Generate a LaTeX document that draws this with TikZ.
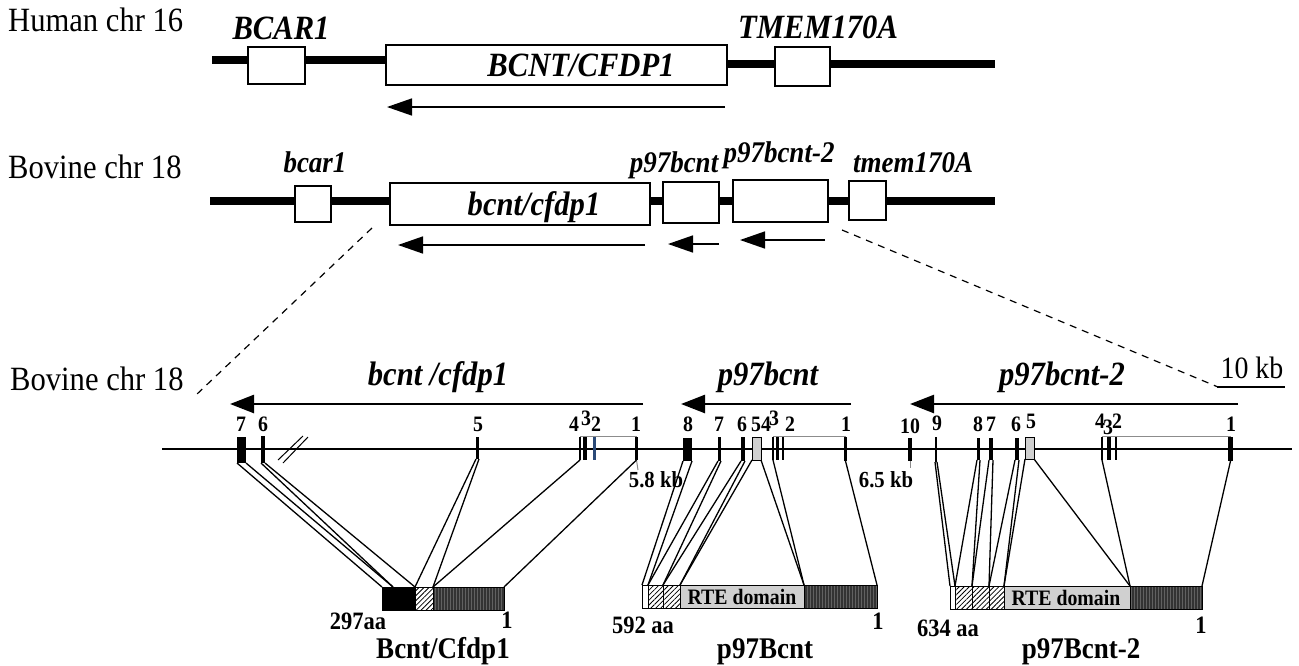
\documentclass[tikz,border=0pt]{standalone}
\usepackage{fontspec}
\setmainfont{Liberation Serif}[FakeStretch=0.9]
\usetikzlibrary{arrows.meta,patterns.meta}
\definecolor{exblue}{HTML}{2B4A78}
\definecolor{rtegray}{HTML}{D0D0D0}
\newcommand\rnode[6]{\node[#1, inner sep=0pt, outer sep=0pt, minimum width={(#5-#3)*1pt}, minimum height={(#6-#4)*1pt}] (#2) at ({(#3+#5)/2},{(#4+#6)/2}) {};}
\tikzset{
 chrom/.style={line width=8pt},
 genebox/.style={draw, line width=1.6pt, fill=white},
 lbl/.style={inner sep=0pt, font=\fontsize{34}{38}\selectfont},
 gene/.style={inner sep=0pt, font=\fontsize{34}{38}\selectfont\bfseries\itshape},
 genes/.style={inner sep=0pt, font=\fontsize{30}{34}\selectfont\bfseries\itshape},
 exnum/.style={inner sep=0pt, font=\fontsize{22}{26}\selectfont\bfseries},
 kbl/.style={inner sep=0pt, font=\fontsize{23}{26}\selectfont\bfseries},
 aal/.style={inner sep=0pt, font=\fontsize{25}{28}\selectfont\bfseries},
 protl/.style={inner sep=0pt, font=\fontsize{30}{34}\selectfont\bfseries},
 rtel/.style={inner sep=0pt, font=\fontsize{22}{26}\selectfont\bfseries},
 scl/.style={inner sep=0pt, font=\fontsize{31}{34}\selectfont},
 bigarrow/.style={line width=1.5pt, -{Triangle[length=25pt,width=17pt]}},
 exarrow/.style={line width=2.5pt, -{Triangle[length=24pt,width=18pt]}},
 dashline/.style={line width=1.2pt, dash pattern=on 7pt off 6pt},
 exon/.style={fill=black},
 blueexon/.style={fill=exblue},
 gexon/.style={draw, line width=0.8pt, fill=rtegray},
 bracket/.style={line width=1pt, draw=black!45},
 conn/.style={line width=1.3pt},
 seg/.style={draw, line width=0.8pt},
 blackseg/.style={seg, fill=black},
 whiteseg/.style={seg, fill=white},
 hatchseg/.style={seg, preaction={fill=white}, pattern={Lines[angle=45,distance=3.5pt,line width=0.8pt]}},
 rteseg/.style={seg, fill=rtegray},
 drkseg/.style={seg, preaction={fill=black!80}, pattern={Lines[angle=90,distance=3pt,line width=1pt]}, pattern color=black!62},
}
\begin{document}
\begin{tikzpicture}[x=1pt,y=-1pt]
\useasboundingbox (0,0) rectangle (1299,665);
% ---------- Row 1: Human chr 16
\node[lbl, anchor=base west] (h16) at (8,31) {Human chr 16};
\draw[chrom] (212,60) -- (390,60);
\draw[chrom] (722,64) -- (995,64);
\rnode{genebox}{hB}{248}{47}{305}{84}
\rnode{genebox}{hC}{386}{45}{727}{85}
\rnode{genebox}{hT}{775}{47}{830}{86}
\node[gene, anchor=base] (hBl) at (281,39) {BCAR1};
\node[gene, anchor=base] (hTl) at (818,38) {TMEM170A};
\node[gene, anchor=base] (hCl) at (581,76) {BCNT/CFDP1};
\coordinate (hA1) at (725,107);
\coordinate (hA0) at (387,107);
\draw[bigarrow] (hA1) -- (hA0);
% ---------- Row 2: Bovine chr 18
\node[lbl, anchor=base west] (b18) at (8,178) {Bovine chr 18};
\draw[chrom] (210,201) -- (995,201);
\rnode{genebox}{vB}{295}{186}{331}{222}
\rnode{genebox}{vC}{390}{183}{650}{225}
\rnode{genebox}{vP}{663}{182}{719}{223}
\rnode{genebox}{vQ}{733}{180}{828}{222}
\rnode{genebox}{vT}{849}{181}{886}{220}
\node[genes, anchor=base] (vBl) at (315,172) {bcar1};
\node[genes, anchor=base] (vPl) at (674,172) {p97bcnt};
\node[genes, anchor=base] (vQl) at (779,162) {p97bcnt-2};
\node[genes, anchor=base] (vTl) at (913,172) {tmem170A};
\node[gene, anchor=base] (vCl) at (534,215) {bcnt/cfdp1};
\coordinate (vA1) at (645,245); \coordinate (vA0) at (398,245);
\coordinate (vP1) at (719,244); \coordinate (vP0) at (668,244);
\coordinate (vQ1) at (825,240); \coordinate (vQ0) at (740,240);
\draw[bigarrow] (vA1) -- (vA0);
\draw[bigarrow] (vP1) -- (vP0);
\draw[bigarrow] (vQ1) -- (vQ0);
\coordinate (dL0) at (372,228); \coordinate (dL1) at (196,395);
\coordinate (dR0) at (842,230); \coordinate (dR1) at (1218,387);
\draw[dashline] (dL0) -- (dL1);
\draw[dashline] (dR0) -- (dR1);
% ---------- Row 3: exon map
\node[lbl, anchor=base west] (c18) at (10,390) {Bovine chr 18};
\node[scl, anchor=base] (kb10) at (1252,378) {10 kb};
\coordinate (sc0) at (1217,387); \coordinate (sc1) at (1285,387);
\draw[line width=1.2pt] (sc0) -- (sc1);
\node[gene, anchor=base] (g1) at (438,385) {bcnt /cfdp1};
\node[gene, anchor=base] (g2) at (768,385) {p97bcnt};
\node[gene, anchor=base] (g3) at (1062,385) {p97bcnt-2};
\coordinate (ga1) at (643,404); \coordinate (ga0) at (230,404);
\coordinate (gb1) at (851,404); \coordinate (gb0) at (681,404);
\coordinate (gc1) at (1238,404); \coordinate (gc0) at (910,404);
\draw[exarrow] (ga1) -- (ga0);
\draw[exarrow] (gb1) -- (gb0);
\draw[exarrow] (gc1) -- (gc0);
\coordinate (m0) at (162,449); \coordinate (m1) at (1292,449);
\draw[line width=2pt] (m0) -- (m1);
% brackets
\coordinate (k1a) at (580,436); \coordinate (k1b) at (637,436);
\coordinate (k2a) at (773,436); \coordinate (k2b) at (846,436);
\coordinate (k3a) at (1102,436); \coordinate (k3b) at (1231,436);
\draw[bracket] (k1a) -- (k1b);
\draw[bracket] (k2a) -- (k2b);
\draw[bracket] (k3a) -- (k3b);
% break marks
\coordinate (br1a) at (278,460); \coordinate (br1b) at (303,436);
\coordinate (br2a) at (283,463); \coordinate (br2b) at (308,437);
\draw[line width=1pt] (br1a) -- (br1b);
\draw[line width=1pt] (br2a) -- (br2b);
% bcnt exons
\rnode{exon}{b7}{237}{437}{246}{463}
\rnode{exon}{b6}{261}{436}{265}{463}
\rnode{exon}{b5}{476}{437}{479}{459}
\rnode{exon}{b4}{579}{437}{581}{460}
\rnode{exon}{b3}{583}{437}{587}{460}
\rnode{blueexon}{b2}{593}{437}{596}{460}
\rnode{exon}{b1}{635}{437}{638}{460}
% p97bcnt exons
\rnode{exon}{p8}{683}{438}{692}{461}
\rnode{exon}{p7}{718}{437}{721}{461}
\rnode{exon}{p6}{741}{437}{745}{461}
\rnode{gexon}{p5}{752}{437}{761}{460}
\rnode{exon}{p4}{772}{437}{774}{460}
\rnode{exon}{p3}{776}{437}{779}{460}
\rnode{exon}{p2}{782}{437}{784}{460}
\rnode{exon}{p1}{844}{437}{847}{461}
% p97bcnt-2 exons
\rnode{exon}{q10}{908}{438}{912}{461}
\rnode{exon}{q9}{935}{437}{937}{462}
\rnode{exon}{q8}{977}{438}{980}{460}
\rnode{exon}{q7}{989}{438}{993}{460}
\rnode{exon}{q6}{1015}{438}{1019}{460}
\rnode{gexon}{q5}{1025}{437}{1034}{459}
\rnode{exon}{q4}{1101}{437}{1103}{460}
\rnode{exon}{q3}{1107}{437}{1111}{460}
\rnode{exon}{q2}{1115}{437}{1117}{460}
\rnode{exon}{q1}{1228}{437}{1233}{461}
% exon numbers
\node[exnum, anchor=base] (nb7) at (241,431) {7};
\node[exnum, anchor=base] (nb6) at (263,431) {6};
\node[exnum, anchor=base] (nb5) at (478,431) {5};
\node[exnum, anchor=base] (nb4) at (574,431) {4};
\node[exnum, anchor=base] (nb3) at (586,425) {3};
\node[exnum, anchor=base] (nb2) at (596,431) {2};
\node[exnum, anchor=base] (nb1) at (636,431) {1};
\node[exnum, anchor=base] (np8) at (688,431) {8};
\node[exnum, anchor=base] (np7) at (719,431) {7};
\node[exnum, anchor=base] (np6) at (742,431) {6};
\node[exnum, anchor=base] (np5) at (756,431) {5};
\node[exnum, anchor=base] (np4) at (766,431) {4};
\node[exnum, anchor=base] (np3) at (774,425) {3};
\node[exnum, anchor=base] (np2) at (790,431) {2};
\node[exnum, anchor=base] (np1) at (846,431) {1};
\node[exnum, anchor=base] (nq10) at (910,433) {10};
\node[exnum, anchor=base] (nq9) at (937,430) {9};
\node[exnum, anchor=base] (nq8) at (978,431) {8};
\node[exnum, anchor=base] (nq7) at (991,431) {7};
\node[exnum, anchor=base] (nq6) at (1016,431) {6};
\node[exnum, anchor=base] (nq5) at (1031,428) {5};
\node[exnum, anchor=base] (nq4) at (1100,428) {4};
\node[exnum, anchor=base] (nq3) at (1108,434) {3};
\node[exnum, anchor=base] (nq2) at (1117,428) {2};
\node[exnum, anchor=base] (nq1) at (1231,431) {1};
% distance marks
\coordinate (d58) at (638,470);
\coordinate (d65) at (910,468);
\draw[bracket] (b1.south) -- (d58);
\draw[bracket] (q10.south) -- (d65);
\node[kbl, anchor=base] (t58) at (656,487) {5.8 kb};
\node[kbl, anchor=base] (t65) at (886,487) {6.5 kb};
% ---------- proteins
\rnode{blackseg}{cB1}{382}{587}{415}{610}
\rnode{hatchseg}{cB2}{415}{587}{433}{610}
\rnode{drkseg}{cB3}{433}{587}{504}{610}
\coordinate (cBm) at (393,587);
\rnode{whiteseg}{pA0}{642}{585}{648}{608}
\rnode{hatchseg}{pA1}{648}{585}{663}{608}
\rnode{hatchseg}{pA2}{663}{585}{680}{608}
\rnode{rteseg}{pA3}{680}{585}{804}{608}
\rnode{drkseg}{pA4}{804}{585}{877}{608}
\node[rtel] (rt1) at (742,597) {RTE domain};
\rnode{whiteseg}{qA0}{950}{586}{955}{609}
\rnode{hatchseg}{qA1}{955}{586}{972}{609}
\rnode{hatchseg}{qA2}{972}{586}{989}{609}
\rnode{hatchseg}{qA3}{989}{586}{1004}{609}
\rnode{rteseg}{qA4}{1004}{586}{1130}{609}
\rnode{drkseg}{qA5}{1130}{586}{1202}{609}
\node[rtel] (rt2) at (1066,598) {RTE domain};
\node[aal, anchor=base] (aa1) at (358,629) {297aa};
\node[aal, anchor=base] (one1) at (507,628) {1};
\node[aal, anchor=base] (aa2) at (643,633) {592 aa};
\node[aal, anchor=base] (one2) at (878,629) {1};
\node[aal, anchor=base] (aa3) at (948,636) {634 aa};
\node[aal, anchor=base] (one3) at (1201,633) {1};
\node[protl, anchor=base] (pn1) at (443,658) {Bcnt/Cfdp1};
\node[protl, anchor=base] (pn2) at (765,658) {p97Bcnt};
\node[protl, anchor=base] (pn3) at (1081,658) {p97Bcnt-2};
% ---------- connectors
\draw[conn] (b7.south west) -- (cB1.north west);
\draw[conn] (b7.south east) -- (cBm);
\draw[conn] (b6.south west) -- (cBm);
\draw[conn] (b6.south east) -- (cB2.north west);
\draw[conn] (b5.south west) -- (cB2.north west);
\draw[conn] (b5.south east) -- (cB3.north west);
\draw[conn] (b4.south) -- (cB3.north west);
\draw[conn] (b1.south) -- (cB3.north east);
\draw[conn] (p8.south west) -- (pA0.north west);
\draw[conn] (p8.south east) -- (pA1.north west);
\draw[conn] (p7.south west) -- (pA1.north west);
\draw[conn] (p7.south east) -- (pA2.north west);
\draw[conn] (p6.south west) -- (pA2.north west);
\draw[conn] (p6.south east) -- (pA3.north west);
\draw[conn] (p5.south west) -- (pA3.north west);
\draw[conn] (p5.south east) -- (pA4.north west);
\draw[conn] (p4.south) -- (pA4.north west);
\draw[conn] (p1.south) -- (pA4.north east);
\draw[conn] (q9.south west) -- (qA0.north west);
\draw[conn] (q9.south east) -- (qA1.north west);
\draw[conn] (q8.south west) -- (qA1.north west);
\draw[conn] (q8.south east) -- (qA2.north west);
\draw[conn] (q7.south west) -- (qA2.north west);
\draw[conn] (q7.south east) -- (qA3.north west);
\draw[conn] (q6.south west) -- (qA3.north west);
\draw[conn] (q6.south east) -- (qA4.north west);
\draw[conn] (q5.south west) -- (qA4.north west);
\draw[conn] (q5.south east) -- (qA5.north west);
\draw[conn] (q4.south) -- (qA5.north west);
\draw[conn] (q1.south) -- (qA5.north east);
\end{tikzpicture}
\end{document}
